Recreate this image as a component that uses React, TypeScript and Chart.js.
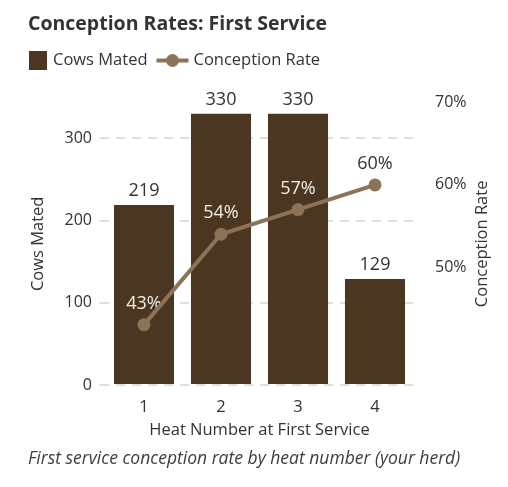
import React, { useEffect, useRef } from 'react';
import { Chart, registerables } from 'chart.js';

Chart.register(...registerables);

// ---- data ----
const categories = ['1', '2', '3', '4'];
const cowsMated = [219, 330, 330, 129];
const conceptionRate = [0.43, 0.54, 0.57, 0.6];
const leftTicks = [0, 100, 200, 300];
const rightTicks = [0.5, 0.6, 0.7];
const seriesNames = ['Cows Mated', 'Conception Rate'];
const titleText = 'Conception Rates: First Service';
const subtitleText = 'First service conception rate by heat number (your herd)';
const xAxisTitle = 'Heat Number at First Service';
const leftAxisTitle = 'Cows Mated';
const rightAxisTitle = 'Conception Rate';

// ---- styles ----
const FONT = "'Open Sans', 'Noto Sans', sans-serif";
const TEXT = '#333333';
const SUB = '#3d3d3d';
const BAR = '#4b3621';
const LINE = '#8c7358';
const GRID = '#dedede';
const LIGHT_LABEL = '#f4eee4';

const pct = (v: number) => Math.round(v * 100) + '%';

const legendPlugin = {
  id: 'customLegend',
  afterDraw(chart: any) {
    const ctx = chart.ctx;
    const y = 52.5;
    ctx.save();
    ctx.font = `16.5px ${FONT}`;
    ctx.textBaseline = 'middle';
    ctx.textAlign = 'left';
    // bar item
    let x = 21;
    ctx.fillStyle = BAR;
    ctx.fillRect(x, y - 9.5, 18, 19);
    x += 24;
    ctx.fillStyle = TEXT;
    ctx.fillText(seriesNames[0], x, y);
    x += ctx.measureText(seriesNames[0]).width + 9;
    // line item
    ctx.strokeStyle = LINE;
    ctx.lineWidth = 4;
    ctx.beginPath();
    ctx.moveTo(x, y);
    ctx.lineTo(x + 32, y);
    ctx.stroke();
    ctx.fillStyle = LINE;
    ctx.beginPath();
    ctx.arc(x + 16, y, 6.5, 0, Math.PI * 2);
    ctx.fill();
    x += 37;
    ctx.fillStyle = TEXT;
    ctx.fillText(seriesNames[1], x, y);
    ctx.restore();
  },
};

const rightTitlePlugin = {
  id: 'rightTitle',
  afterDraw(chart: any) {
    const ctx = chart.ctx;
    const area = chart.chartArea;
    const scale = chart.scales.y1;
    ctx.save();
    ctx.font = `16.5px ${FONT}`;
    ctx.fillStyle = TEXT;
    ctx.textAlign = 'center';
    ctx.textBaseline = 'middle';
    ctx.translate(scale.right - 18, (area.top + area.bottom) / 2);
    ctx.rotate(-Math.PI / 2);
    ctx.fillText(rightAxisTitle, 0, 0);
    ctx.restore();
  },
};

const valueLabelsPlugin = {
  id: 'valueLabels',
  afterDatasetDraw(chart: any, args: any) {
    if (args.index !== 0) return;
    const ctx = chart.ctx;
    const barMeta = chart.getDatasetMeta(0);
    const lineMeta = chart.getDatasetMeta(1);
    ctx.save();
    ctx.font = `18px ${FONT}`;
    ctx.textAlign = 'center';
    ctx.textBaseline = 'middle';
    barMeta.data.forEach((el: any, i: number) => {
      ctx.fillStyle = TEXT;
      ctx.fillText(String(cowsMated[i]), el.x, el.y - 14);
    });
    lineMeta.data.forEach((pt: any, i: number) => {
      const ly = pt.y - 21;
      const bar = barMeta.data[i];
      const inside = ly > bar.y + 8;
      ctx.fillStyle = inside ? LIGHT_LABEL : TEXT;
      ctx.fillText(pct(conceptionRate[i]), pt.x, ly);
    });
    ctx.restore();
  },
};

export default function App() {
  const ref = useRef<HTMLCanvasElement | null>(null);

  useEffect(() => {
    if (!ref.current) return;
    Chart.defaults.font.family = FONT;
    const chart = new Chart(ref.current, {
      type: 'bar',
      data: {
        labels: categories,
        datasets: [
          {
            type: 'bar',
            label: seriesNames[0],
            data: cowsMated,
            yAxisID: 'y',
            backgroundColor: BAR,
            barPercentage: 0.78,
            categoryPercentage: 1,
            order: 2,
          },
          {
            type: 'line',
            label: seriesNames[1],
            data: conceptionRate,
            yAxisID: 'y1',
            borderColor: LINE,
            backgroundColor: LINE,
            borderWidth: 4,
            pointRadius: 6.5,
            pointBackgroundColor: LINE,
            pointBorderWidth: 0,
            tension: 0,
            order: 1,
          },
        ] as any,
      },
      options: {
        animation: false,
        responsive: true,
        maintainAspectRatio: false,
        layout: { padding: { top: 4.5, left: 20, right: 0, bottom: 9.5 } },
        plugins: {
          legend: { display: false },
          tooltip: { enabled: false },
          title: {
            display: true,
            text: titleText,
            align: 'start',
            color: TEXT,
            font: { family: FONT, size: 19.5, weight: 'bold' },
            padding: { top: 0, bottom: 66.8 },
          },
          subtitle: {
            display: true,
            text: subtitleText,
            position: 'bottom',
            align: 'start',
            color: SUB,
            font: { family: FONT, size: 17.5, style: 'italic' },
            padding: { top: 7.9, bottom: 0 },
          },
        },
        scales: {
          x: {
            type: 'category',
            offset: true,
            grid: { display: false, drawTicks: false },
            border: { display: false },
            ticks: { padding: 12.4, color: TEXT, font: { size: 16.5 } },
            title: {
              display: true,
              text: xAxisTitle,
              color: TEXT,
              font: { size: 16.5 },
              padding: { top: 4.8, bottom: 0 },
            },
            afterFit: (s: any) => {
              s.height = 55.6;
            },
          },
          y: {
            type: 'linear',
            position: 'left',
            min: 0,
            max: 343.4,
            afterBuildTicks: (s: any) => {
              s.ticks = leftTicks.map((v) => ({ value: v }));
            },
            grid: {
              color: GRID,
              lineWidth: 2,
              drawTicks: true,
              tickLength: 6,
              tickColor: GRID,
              tickWidth: 2,
            },
            border: { display: false, dash: [9, 7], dashOffset: 6 },
            ticks: { padding: 7.5, color: TEXT, font: { size: 16 } },
            title: {
              display: true,
              text: leftAxisTitle,
              color: TEXT,
              font: { size: 16.5 },
              padding: { top: 0, bottom: 0 },
            },
            afterFit: (s: any) => {
              s.width = 77.5;
            },
          },
          y1: {
            type: 'linear',
            position: 'right',
            min: 0.3566,
            max: 0.7,
            afterBuildTicks: (s: any) => {
              s.ticks = rightTicks.map((v) => ({ value: v }));
            },
            grid: { display: false, drawTicks: false },
            border: { display: false },
            ticks: {
              padding: 21.5,
              color: TEXT,
              font: { size: 16 },
              callback: (v: any) => pct(Number(v)),
            },
            afterFit: (s: any) => {
              s.width = 86.5;
            },
          },
        },
      } as any,
      plugins: [legendPlugin, rightTitlePlugin, valueLabelsPlugin],
    });
    return () => chart.destroy();
  }, []);

  return (
    <div style={{ position: 'relative', width: 492, height: 471 }}>
      <canvas ref={ref} />
    </div>
  );
}
